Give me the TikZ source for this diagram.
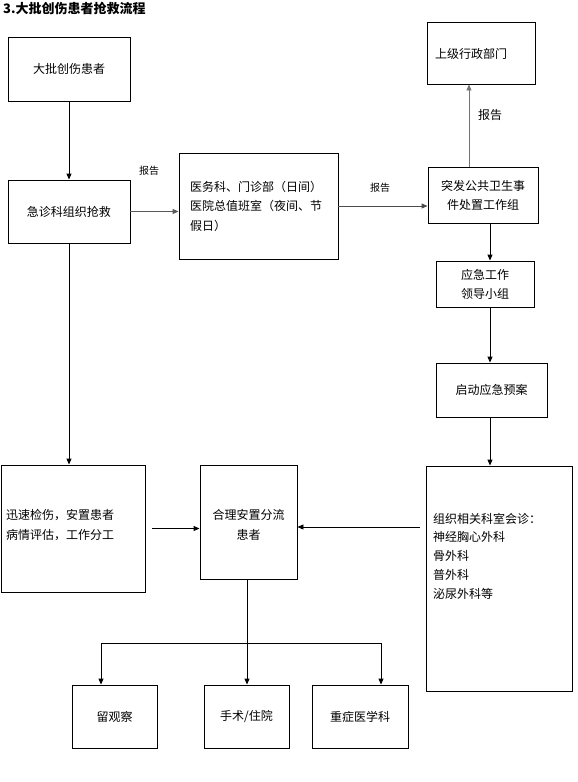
\documentclass[tikz,border=0pt]{standalone}
\usepackage{fontspec}
\setmainfont{Noto Sans CJK SC}
\usetikzlibrary{arrows.meta,calc}
\begin{document}
\begin{tikzpicture}[x=1pt,y=-1pt,
  box/.style={draw,line width=0.9pt,inner sep=0pt,font=\fontsize{12pt}{19pt}\selectfont},
  txt/.style={inner sep=0pt,align=center,font=\fontsize{12pt}{19.5pt}\selectfont},
  lbl/.style={inner sep=0pt,font=\fontsize{10pt}{12pt}\selectfont},
  arr/.style={line width=0.9pt,-{Triangle[length=6pt,width=5pt]}},
  ln/.style={line width=0.9pt}]
\useasboundingbox (0,0) rectangle (578,782);
\node[anchor=west,inner sep=0pt,font=\fontsize{13pt}{15pt}\bfseries\selectfont] (title) at (3,9) {3.大批创伤患者抢救流程};
% boxes
\node[box,minimum width=122pt,minimum height=64pt] (A) at (69,69) {大批创伤患者};
\node[box,minimum width=122pt,minimum height=63pt] (B) at (69,211.5) {急诊科组织抢救};
\node[box,minimum width=159pt,minimum height=106pt] (C) at (258.5,206) {};
\node[txt,anchor=west,align=left] (Ct) at (190,206) {医务科、门诊部（日间）\\医院总值班室（夜间、节\\假日）};
\node[box,minimum width=108pt,minimum height=62pt] (F) at (481,53) {};
\node[txt,anchor=west] (Ft) at (435,54) {上级行政部门};
\node[box,minimum width=110pt,minimum height=56pt,align=center] (E) at (483,195) {突发公共卫生事\\件处置工作组};
\node[box,minimum width=98pt,minimum height=46pt,align=center] (G) at (485,284) {应急工作\\领导小组};
\node[box,minimum width=111pt,minimum height=54pt] (H) at (491.5,390) {启动应急预案};
\node[box,minimum width=146pt,minimum height=225pt] (I) at (499,578.5) {};
\node[txt,anchor=west,align=left,font=\fontsize{12pt}{18.7pt}\selectfont] (It) at (433,556) {组织相关科室会诊：\\神经胸心外科\\骨外科\\普外科\\泌尿外科等};
\node[box,minimum width=144pt,minimum height=127pt] (D) at (73,528.5) {};
\node[txt,font=\fontsize{12pt}{20pt}\selectfont] (Dt) at (60,525) {迅速检伤，安置患者\\病情评估，工作分工};
\node[box,minimum width=97pt,minimum height=114pt] (J) at (248.5,522) {};
\node[txt,font=\fontsize{12pt}{20pt}\selectfont] (Jt) at (248.5,525) {合理安置分流\\患者};
\node[box,minimum width=85pt,minimum height=63pt] (K1) at (114.5,716.5) {留观察};
\node[box,minimum width=85pt,minimum height=63pt] (K2) at (246.5,716.5) {手术/住院};
\node[box,minimum width=96pt,minimum height=63pt] (K3) at (360,716.5) {重症医学科};
% labels
\node[lbl] (L1) at (149,171) {报告};
\node[lbl] (L2) at (380,188) {报告};
\node[lbl,font=\fontsize{12pt}{14pt}\selectfont] (L3) at (490,115) {报告};
% coordinates
\coordinate (xr) at (490,0);
\coordinate (xu) at (469,0);
\coordinate (yr) at (0,527);
\coordinate (b1) at (101,643);
\coordinate (b2) at (247,643);
\coordinate (b3) at (381,643);
% connectors
\draw[arr] (A.south) -- (B.north);
\draw[arr,draw=black!65] (B.east) -- (B.east -| C.west);
\draw[arr,draw=black!70] (C.east) -- (C.east -| E.west);
\draw[arr,draw=black!55] (E.north -| xu) -- (F.south -| xu);
\draw[arr] (E.south -| xr) -- (G.north -| xr);
\draw[arr] (G.south -| xr) -- (H.north -| xr);
\draw[arr] (H.south -| xr) -- (I.north -| xr);
\draw[arr] (B.south) -- (B.south |- D.north);
\draw[arr] ($(D.east)+(7,0)$) -- (D.east -| J.west);
\draw[arr] ($(I.west |- yr)+(-6,0)$) -- (J.east |- yr);
\draw[ln] (J.south -| b2) -- (b2);
\draw[ln] (b1) -- (b3);
\draw[arr] (b1) -- (b1 |- K1.north);
\draw[arr] (b2) -- (b2 |- K2.north);
\draw[arr] (b3) -- (b3 |- K3.north);
\end{tikzpicture}
\end{document}
